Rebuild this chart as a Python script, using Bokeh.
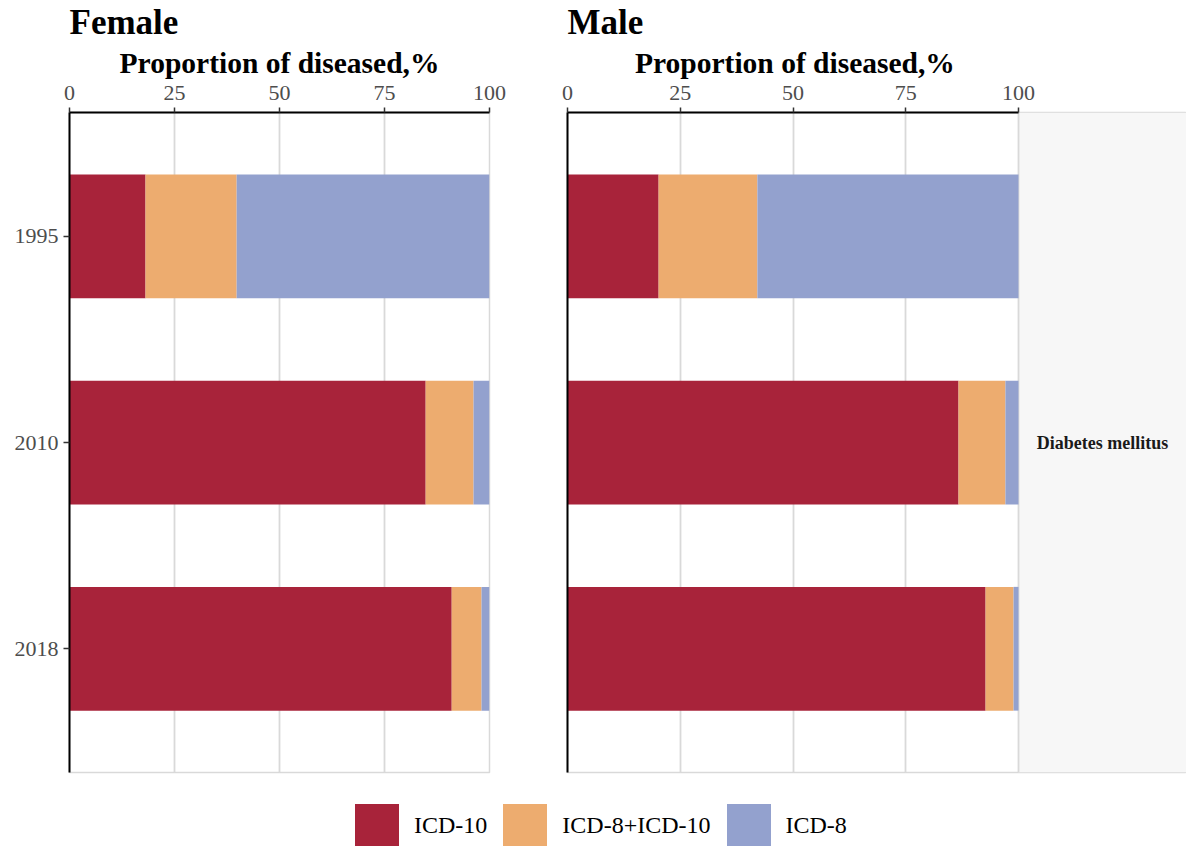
from bokeh.plotting import figure
from bokeh.layouts import row, column
from bokeh.models import ColumnDataSource, FactorRange, Range1d, FixedTicker, BoxAnnotation, Legend, Title
from bokeh.embed import file_html
from bokeh.resources import INLINE
from bokeh.core.properties import value

# ---- data ----
years = ["1995", "2010", "2018"]
categories = ["ICD-10", "ICD-8+ICD-10", "ICD-8"]
colors = ["#A8233A", "#EDAC6F", "#93A1CE"]
female_icd10 = [18.1, 84.8, 91.0]
female_icd8_10 = [21.7, 11.4, 7.1]
female_icd8 = [60.2, 3.8, 1.9]
male_icd10 = [20.2, 86.7, 92.7]
male_icd8_10 = [21.9, 10.4, 6.2]
male_icd8 = [57.9, 2.9, 1.1]
x_ticks = [0, 25, 50, 75, 100]
panel_titles = ["Female", "Male"]
axis_title = "Proportion of diseased,%"
strip_label = "Diabetes mellitus"

FONT = "Liberation Serif"
stackers = ["icd10", "icd8_10", "icd8"]
y_factors = list(reversed(years))

src_f = ColumnDataSource(dict(year=years, icd10=female_icd10, icd8_10=female_icd8_10, icd8=female_icd8))
src_m = ColumnDataSource(dict(year=years, icd10=male_icd10, icd8_10=male_icd8_10, icd8=male_icd8))

TOP = 112
FRAME_H = 660
BOTTOM = 10
H = TOP + FRAME_H + BOTTOM
PANEL_W_M = 451
TOTAL_W = 1186
TOTAL_H = 846
LABEL_TEXT_W = 316  # approx. rendered width of the axis title


def make_panel(title, src, width, left, right, x_end, show_y, label_align, label_offset):
    p = figure(width=width, height=H, x_range=Range1d(0, x_end),
               y_range=FactorRange(factors=y_factors, range_padding=0.1, range_padding_units="absolute"),
               x_axis_location="above", toolbar_location=None, output_backend="svg",
               min_border_left=left, min_border_right=right, min_border_top=TOP,
               min_border_bottom=BOTTOM, title=title)
    p.title.text_font = FONT
    p.title.text_font_size = "35px"
    p.title.text_font_style = "bold"
    p.title.text_color = "black"
    p.title.align = "left"
    p.title.standoff = 0

    p.hbar_stack(stackers, y="year", height=0.6, color=colors, line_color=None, source=src)

    ax = p.xaxis[0]
    ax.ticker = FixedTicker(ticks=x_ticks)
    ax.bounds = (0, 100)
    ax.major_label_text_font = FONT
    ax.major_label_text_font_size = "22px"
    ax.major_label_text_color = "#4D4D4D"
    ax.major_label_standoff = 8
    ax.major_tick_out = 5
    ax.major_tick_in = 0
    ax.minor_tick_out = 0
    ax.minor_tick_in = 0
    ax.major_tick_line_color = "#333333"
    ax.major_tick_line_width = 1.5
    ax.axis_line_color = "black"
    ax.axis_line_width = 2

    # axis title, centred over the 0-100 panel
    p.add_layout(Title(text=axis_title, align=label_align, offset=label_offset, standoff=7,
                       text_line_height=0.85,
                       text_font=FONT, text_font_size="29.5px", text_font_style="bold",
                       text_color="black"), "above")

    ay = p.yaxis[0]
    ay.axis_line_color = "black"
    ay.axis_line_width = 2
    ay.major_label_text_font = FONT
    ay.major_label_text_font_size = "22px"
    ay.major_label_text_color = "#4D4D4D"
    ay.major_label_standoff = 5
    ay.major_tick_out = 6
    ay.major_tick_in = 0
    ay.major_tick_line_color = "#333333"
    ay.major_tick_line_width = 1.5
    if not show_y:
        ay.major_label_text_color = None
        ay.major_tick_line_color = None

    p.xgrid.ticker = FixedTicker(ticks=x_ticks)
    p.xgrid.grid_line_color = "#D9D9D9"
    p.xgrid.grid_line_width = 1.8
    p.ygrid.grid_line_color = None
    p.outline_line_color = "#D9D9D9"
    p.outline_line_width = 1.5
    p.background_fill_color = "white"
    p.border_fill_color = "white"
    return p


fem_left, fem_frame_w, fem_right = 69, 420, 39
fem_w = fem_left + fem_frame_w + fem_right
fem = make_panel(panel_titles[0], src_f, fem_w, fem_left, fem_right, 100, True, "center", 0)

male_total_w = TOTAL_W - fem_w
male_left = 39
male_frame_w = male_total_w - male_left
x_end_m = 100 * male_frame_w / PANEL_W_M
male = make_panel(panel_titles[1], src_m, male_total_w, male_left, 0, x_end_m, False,
                  "left", (PANEL_W_M - LABEL_TEXT_W) / 2)
male.add_layout(BoxAnnotation(left=100, fill_color="#F7F7F7", fill_alpha=1, line_color=None, level="image"))
male.text(x=[(100 + x_end_m) / 2], y=[years[1]], text=[strip_label], text_font=value(FONT),
          text_font_style="bold", text_font_size="18px", text_align="center",
          text_baseline="middle", text_color="#1A1A1A")

# legend row (bars kept outside the visible range; only the legend shows)
leg_h = TOTAL_H - H
leg = figure(width=TOTAL_W, height=leg_h, x_range=Range1d(-10100, -10000), y_range=FactorRange(factors=y_factors),
             toolbar_location=None, output_backend="svg", min_border=0,
             x_axis_location=None, y_axis_location=None)
leg.grid.visible = False
leg.outline_line_color = None
leg.background_fill_color = "white"
leg.border_fill_color = "white"
rs = leg.hbar_stack(stackers, y="year", height=0.6, color=colors, line_color=None, source=src_f)
leg.add_layout(BoxAnnotation(fill_color="white", fill_alpha=1, line_color=None, level="guide"))
legend = Legend(items=[(c, [r]) for c, r in zip(categories, rs)], orientation="horizontal",
                location=(349, -7), glyph_width=55, glyph_height=55, label_standoff=10, spacing=10,
                padding=0, margin=0, border_line_color=None, background_fill_alpha=0,
                label_text_font=FONT, label_text_font_size="24px", label_text_color="black")
leg.add_layout(legend, "center")

layout = column(row(fem, male), leg)
open("out.html", "w").write(file_html(layout, INLINE))
